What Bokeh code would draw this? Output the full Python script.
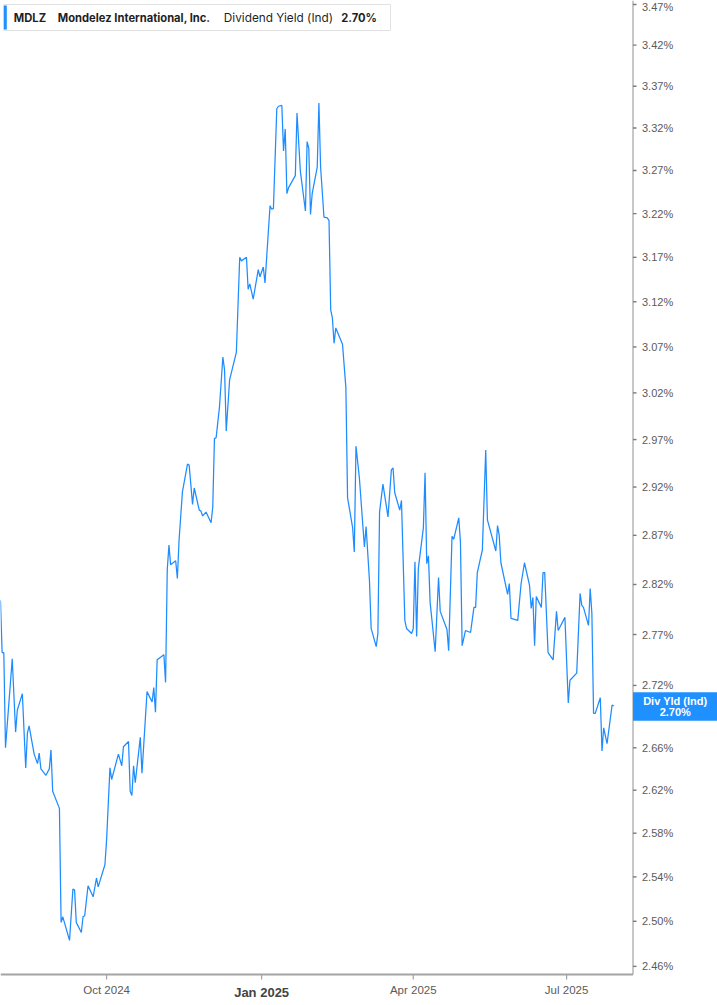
import math
from datetime import datetime, timedelta
import pandas as pd
from bokeh.plotting import figure
from bokeh.models import Range1d, ColumnDataSource
from bokeh.core.properties import value
from bokeh.embed import file_html
from bokeh.resources import INLINE

# ---------------- data ----------------
dates = [
    "2024-07-30", "2024-07-31", "2024-08-01", "2024-08-02", "2024-08-06", "2024-08-08", "2024-08-09",
    "2024-08-12", "2024-08-14", "2024-08-15", "2024-08-16", "2024-08-19", "2024-08-21", "2024-08-22",
    "2024-08-23", "2024-08-26", "2024-08-28", "2024-08-29", "2024-08-30", "2024-09-03", "2024-09-04",
    "2024-09-05", "2024-09-09", "2024-09-11", "2024-09-12", "2024-09-13", "2024-09-16", "2024-09-17",
    "2024-09-18", "2024-09-20", "2024-09-23", "2024-09-25", "2024-09-26", "2024-09-30", "2024-10-01",
    "2024-10-03", "2024-10-04", "2024-10-08", "2024-10-10", "2024-10-11", "2024-10-14", "2024-10-15",
    "2024-10-16", "2024-10-17", "2024-10-18", "2024-10-21", "2024-10-22", "2024-10-25", "2024-10-28",
    "2024-10-29", "2024-10-30", "2024-10-31", "2024-11-04", "2024-11-05", "2024-11-06", "2024-11-07",
    "2024-11-08", "2024-11-11", "2024-11-12", "2024-11-13", "2024-11-15", "2024-11-18", "2024-11-19",
    "2024-11-21", "2024-11-22", "2024-11-25", "2024-11-26", "2024-11-27", "2024-11-29", "2024-12-02",
    "2024-12-03", "2024-12-04", "2024-12-05", "2024-12-07", "2024-12-09", "2024-12-10", "2024-12-11",
    "2024-12-13", "2024-12-17", "2024-12-19", "2024-12-20", "2024-12-23", "2024-12-24", "2024-12-25",
    "2024-12-27", "2024-12-30", "2024-12-31", "2025-01-02", "2025-01-03", "2025-01-06", "2025-01-07",
    "2025-01-08", "2025-01-10", "2025-01-11", "2025-01-13", "2025-01-14", "2025-01-15", "2025-01-16",
    "2025-01-17", "2025-01-21", "2025-01-22", "2025-01-24", "2025-01-27", "2025-01-28", "2025-01-29",
    "2025-01-30", "2025-01-31", "2025-02-03", "2025-02-04", "2025-02-05", "2025-02-07", "2025-02-09",
    "2025-02-10", "2025-02-11", "2025-02-12", "2025-02-13", "2025-02-14", "2025-02-18", "2025-02-20",
    "2025-02-21", "2025-02-24", "2025-02-25", "2025-02-26", "2025-02-28", "2025-03-03", "2025-03-04",
    "2025-03-06", "2025-03-07", "2025-03-10", "2025-03-11", "2025-03-12", "2025-03-14", "2025-03-17",
    "2025-03-19", "2025-03-20", "2025-03-21", "2025-03-24", "2025-03-25", "2025-03-27", "2025-03-28",
    "2025-03-31", "2025-04-01", "2025-04-02", "2025-04-03", "2025-04-04", "2025-04-07", "2025-04-08",
    "2025-04-09", "2025-04-10", "2025-04-11", "2025-04-14", "2025-04-16", "2025-04-17", "2025-04-21",
    "2025-04-22", "2025-04-24", "2025-04-25", "2025-04-28", "2025-04-29", "2025-04-30", "2025-05-02",
    "2025-05-05", "2025-05-07", "2025-05-08", "2025-05-09", "2025-05-12", "2025-05-14", "2025-05-15",
    "2025-05-20", "2025-05-21", "2025-05-22", "2025-05-23", "2025-05-27", "2025-05-28", "2025-05-29",
    "2025-06-02", "2025-06-04", "2025-06-06", "2025-06-09", "2025-06-10", "2025-06-11", "2025-06-12",
    "2025-06-13", "2025-06-16", "2025-06-17", "2025-06-18", "2025-06-20", "2025-06-23", "2025-06-25",
    "2025-06-26", "2025-06-30", "2025-07-02", "2025-07-03", "2025-07-07", "2025-07-09", "2025-07-10",
    "2025-07-11", "2025-07-14", "2025-07-15", "2025-07-16", "2025-07-17", "2025-07-18", "2025-07-21",
    "2025-07-22", "2025-07-23", "2025-07-25", "2025-07-28", "2025-07-29",
]
yields = [
    2.804, 2.752, 2.752, 2.660, 2.746, 2.675, 2.696,
    2.712, 2.641, 2.674, 2.681, 2.654, 2.645, 2.655,
    2.640, 2.634, 2.640, 2.658, 2.619, 2.603, 2.499,
    2.504, 2.483, 2.529, 2.528, 2.499, 2.490, 2.504,
    2.505, 2.532, 2.522, 2.539, 2.531, 2.551, 2.574,
    2.641, 2.630, 2.654, 2.643, 2.661, 2.666, 2.619,
    2.615, 2.643, 2.627, 2.670, 2.636, 2.714, 2.704,
    2.718, 2.694, 2.745, 2.750, 2.723, 2.835, 2.860,
    2.840, 2.844, 2.826, 2.865, 2.915, 2.944, 2.943,
    2.902, 2.919, 2.896, 2.895, 2.890, 2.894, 2.883,
    2.899, 2.971, 2.972, 3.005, 3.059, 3.045, 2.979,
    3.034, 3.064, 3.170, 3.166, 3.170, 3.134, 3.140,
    3.123, 3.156, 3.148, 3.159, 3.141, 3.229, 3.225,
    3.226, 3.343, 3.346, 3.347, 3.293, 3.319, 3.243,
    3.250, 3.264, 3.338, 3.269, 3.223, 3.304, 3.296,
    3.219, 3.243, 3.274, 3.350, 3.274, 3.216, 3.215,
    3.212, 3.111, 3.102, 3.074, 3.091, 3.073, 3.026,
    2.909, 2.878, 2.853, 2.963, 2.930, 2.858, 2.879,
    2.824, 2.776, 2.758, 2.771, 2.894, 2.923, 2.889,
    2.938, 2.940, 2.914, 2.896, 2.906, 2.784, 2.776,
    2.771, 2.776, 2.843, 2.768, 2.836, 2.878, 2.935,
    2.841, 2.849, 2.802, 2.753, 2.827, 2.793, 2.775,
    2.754, 2.869, 2.866, 2.888, 2.863, 2.759, 2.774,
    2.772, 2.797, 2.797, 2.832, 2.855, 2.959, 2.886,
    2.854, 2.880, 2.870, 2.842, 2.810, 2.821, 2.786,
    2.784, 2.821, 2.842, 2.819, 2.796, 2.807, 2.759,
    2.808, 2.797, 2.832, 2.832, 2.752, 2.745, 2.793,
    2.774, 2.787, 2.703, 2.725, 2.732, 2.811, 2.799,
    2.797, 2.779, 2.816, 2.791, 2.693, 2.693, 2.708,
    2.657, 2.679, 2.664, 2.701, 2.700,
]

y_ticks = [2.46, 2.50, 2.54, 2.58, 2.62, 2.66, 2.72, 2.77, 2.82, 2.87, 2.92,
           2.97, 3.02, 3.07, 3.12, 3.17, 3.22, 3.27, 3.32, 3.37, 3.42, 3.47]
x_tick_dates = ["2024-10-01", "2025-01-01", "2025-04-01", "2025-07-01"]
x_tick_labels = ["Oct 2024", "Jan 2025", "Apr 2025", "Jul 2025"]
x_tick_bold = [False, True, False, False]

ticker_symbol = "MDLZ"
company = "Mondelez International, Inc."
metric = "Dividend Yield (Ind)"
last_label = "2.70%"
tag_title = "Div Yld (Ind)"

# ---------------- styling / layout (picture pixels) ----------------
LINE = "#1e8cff"
BOX = "#1e90ff"
AXIS_GREY = "#a3a3a3"
LABEL_GREY = "#5a5a5a"
LEGEND_FONT = "Inter"
AXIS_FONT = "Liberation Sans"

W, H = 717, 1005
AXIS_X = 632.5                 # right value axis line
AXIS_Y = 974.0                 # bottom time axis line

# linear time scale: Oct 1 2024 sits at x 106.1, 1.685 px per day
ANCHOR, ANCHOR_PX, PX_PER_DAY = datetime(2024, 10, 1), 106.1, 1.685
def x_at(px):
    return ANCHOR + timedelta(days=(px - ANCHOR_PX) / PX_PER_DAY)

# log value scale: 3.47 sits at y 4, 2796.2 px per unit of ln
Y_VAL, Y_PX, Y_K = 3.47, 4.0, 2796.2
def y_at(py):
    return Y_VAL * math.exp(-(py - Y_PX) / Y_K)
def py_of(v):
    return Y_PX + Y_K * math.log(Y_VAL / v)

p = figure(
    width=W, height=H,
    x_axis_type="datetime", y_axis_type="log",
    x_axis_location=None, y_axis_location=None,
    x_range=Range1d(x_at(0), x_at(W)),
    y_range=Range1d(y_at(H), y_at(0)),
    output_backend="svg", toolbar_location=None, min_border=0,
)
p.outline_line_color = None
p.background_fill_color = "white"
p.border_fill_color = "white"
p.xgrid.grid_line_color = None
p.ygrid.grid_line_color = None

# ---- data line
src = ColumnDataSource(dict(date=pd.to_datetime(dates), y=yields))
p.line("date", "y", source=src, line_color=LINE, line_width=1.25)

# ---- axes lines
p.segment(x0=[x_at(0)], y0=[y_at(AXIS_Y)], x1=[x_at(AXIS_X)], y1=[y_at(AXIS_Y)],
          line_color=AXIS_GREY, line_width=1.8)
p.segment(x0=[x_at(AXIS_X)], y0=[y_at(0)], x1=[x_at(AXIS_X)], y1=[y_at(AXIS_Y)],
          line_color=AXIS_GREY, line_width=1.2)

# ---- y ticks + labels
p.segment(x0=[x_at(AXIS_X)] * len(y_ticks), y0=y_ticks,
          x1=[x_at(AXIS_X + 3.5)] * len(y_ticks), y1=y_ticks,
          line_color="#7a7a7a", line_width=1.4)
p.text(x=[x_at(AXIS_X + 9)] * len(y_ticks),
       y=[y_at(max(py_of(t), 6.0)) for t in y_ticks],
       text=[f"{t:.2f}%" for t in y_ticks],
       text_font=value(AXIS_FONT), text_font_size="11px", text_color=LABEL_GREY,
       text_align="left", text_baseline="middle")

# ---- x ticks + labels
tick_dt = [pd.Timestamp(d).to_pydatetime() for d in x_tick_dates]
p.segment(x0=tick_dt, y0=[y_at(AXIS_Y)] * len(tick_dt),
          x1=tick_dt, y1=[y_at(AXIS_Y + 5)] * len(tick_dt),
          line_color=AXIS_GREY, line_width=1.2)
norm = [i for i, b in enumerate(x_tick_bold) if not b]
bold = [i for i, b in enumerate(x_tick_bold) if b]
p.text(x=[tick_dt[i] for i in norm], y=[y_at(AXIS_Y + 15.5)] * len(norm),
       text=[x_tick_labels[i] for i in norm],
       text_font=value(AXIS_FONT), text_font_size="11.5px", text_color=LABEL_GREY,
       text_align="center", text_baseline="middle")
p.text(x=[tick_dt[i] for i in bold], y=[y_at(AXIS_Y + 17.5)] * len(bold),
       text=[x_tick_labels[i] for i in bold],
       text_font=value(AXIS_FONT), text_font_size="13px", text_font_style="bold",
       text_color="#444444", text_align="center", text_baseline="middle")

# ---- legend box (top-left)
p.quad(left=[x_at(3.3)], right=[x_at(390)], top=[y_at(4)], bottom=[y_at(30)],
       fill_color="white", line_color="#e2e2e2", line_width=1)
p.quad(left=[x_at(3.3)], right=[x_at(6.3)], top=[y_at(5)], bottom=[y_at(29)],
       fill_color=BOX, line_color=None)
leg_y = y_at(17)
p.text(x=[x_at(13.3), x_at(57.3), x_at(340.7)], y=[leg_y] * 3,
       text=[ticker_symbol, company, last_label],
       text_font=value(LEGEND_FONT), text_font_size="11.2px", text_font_style="bold",
       text_color="#1f1f1f", text_align="left", text_baseline="middle")
p.text(x=[x_at(223.3)], y=[leg_y], text=[metric],
       text_font=value(LEGEND_FONT), text_font_size="11.8px",
       text_color="#1f1f1f", text_align="left", text_baseline="middle")

# ---- last-value tag on the value axis
tag_c = py_of(yields[-1]) + 0.5
p.quad(left=[x_at(AXIS_X)], right=[x_at(W)],
       top=[y_at(tag_c - 14.2)], bottom=[y_at(tag_c + 14.2)],
       fill_color=BOX, line_color=None)
tag_x = x_at((AXIS_X + W) / 2)
p.text(x=[tag_x, tag_x], y=[y_at(tag_c - 5.7), y_at(tag_c + 5.3)],
       text=[tag_title, last_label],
       text_font=value(AXIS_FONT), text_font_size="11px", text_font_style="bold",
       text_color="white", text_align="center", text_baseline="middle")

open("out.html", "w").write(file_html(p, INLINE))
